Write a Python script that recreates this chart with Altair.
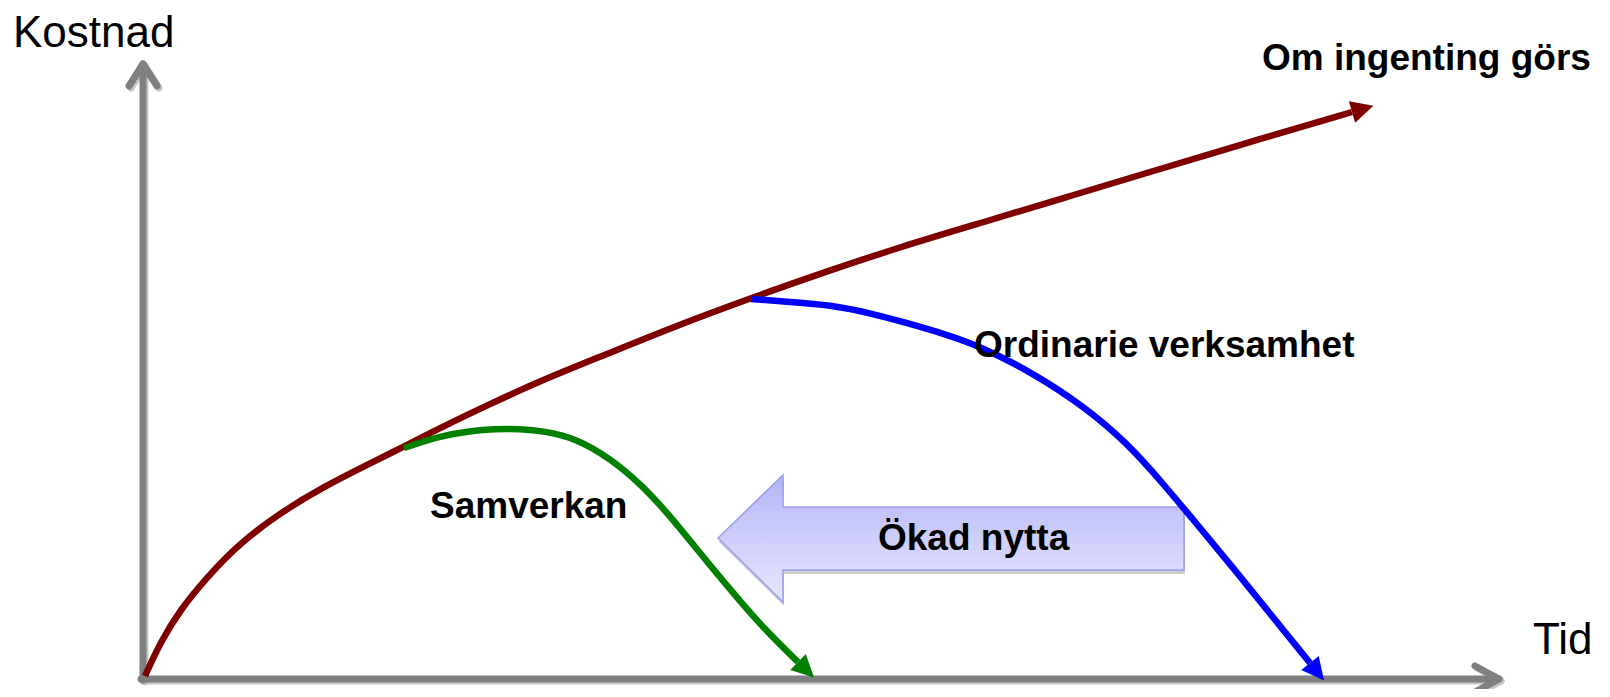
import math
import altair as alt
import pandas as pd

# ---------------- data (arbitrary units: Tid on x, Kostnad on y) ----------------
series_names = ["Om ingenting görs", "Samverkan", "Ordinarie verksamhet"]
series_colors = ["#800000", "#008000", "#0000ff"]

red_t = [0.2, 1.7, 3.7, 6.4, 9.7, 13.7, 18.0, 23.0, 26.0, 29.7, 34.7, 39.7,
         46.4, 53.0, 60.8, 68.2, 75.7, 84.1, 92.4, 100.7, 109.0, 120.9]
red_k = [0.3, 3.6, 6.9, 10.2, 13.6, 16.6, 19.2, 21.7, 23.2, 25.1, 27.5, 29.8,
         32.5, 35.2, 38.1, 40.7, 43.2, 45.7, 48.2, 50.7, 53.2, 56.7]

green_t = [26.1, 29.7, 32.7, 35.2, 37.7, 40.1, 43.2, 46.7, 50.0, 52.7, 55.7, 59.0, 62.3, 65.5]
green_k = [23.1, 24.3, 24.8, 25.0, 25.0, 24.8, 24.1, 22.1, 19.3, 16.3, 12.6, 8.6, 4.8, 1.7]

blue_t = [60.8, 64.7, 68.7, 72.7, 76.4, 80.2, 83.9, 89.0, 94.2, 98.4, 101.7,
          105.3, 109.1, 112.9, 116.7]
blue_k = [38.0, 37.7, 37.4, 36.6, 35.6, 34.5, 33.2, 30.6, 27.2, 23.6, 19.9,
          15.6, 11.0, 6.3, 1.6]

# "Ökad nytta" block arrow outline (x, upper edge, lower edge)
benefit_t = [57.5, 64.0, 64.0, 104.1]
benefit_top = [14.1, 20.4, 17.2, 17.2]
benefit_bot = [14.1, 7.7, 10.9, 10.9]

# axis lines with open arrow heads
axis_seg = ["y", "y", "ycap", "ycap", "ycap", "x", "x", "xcap", "xcap", "xcap"]
axis_t = [0.0, 0.0, -1.4, 0.0, 1.4, -0.2, 135.6, 133.2, 135.6, 133.2]
axis_k = [-0.1, 61.5, 59.3, 61.5, 59.3, 0.0, 0.0, 1.3, 0.0, -1.3]

axis_titles = ["Kostnad", "Tid"]
axis_title_t = [-13.0, 139.0]
axis_title_k = [63.2, 2.5]

curve_labels = ["Om ingenting görs", "Ordinarie verksamhet", "Samverkan", "Ökad nytta"]
curve_label_t = [111.9, 83.1, 28.7, 73.5]
curve_label_k = [60.9, 32.2, 16.1, 12.9]

# ---------------- tables ----------------
rows = []
for name, ts, ks in zip(series_names, [red_t, green_t, blue_t], [red_k, green_k, blue_k]):
    for i, (t, k) in enumerate(zip(ts, ks)):
        rows.append({"serie": name, "t": t, "k": k, "i": i})
curves = pd.DataFrame(rows)

heads = []
for name, col, ts, ks in zip(series_names, series_colors,
                             [red_t, green_t, blue_t], [red_k, green_k, blue_k]):
    dt = ts[-1] - ts[-2]
    dk = ks[-1] - ks[-2]
    ang = math.degrees(math.atan2(-dk, dt)) % 360
    heads.append({"serie": name, "t": ts[-1], "k": ks[-1], "ang": ang, "col": col})
heads = pd.DataFrame(heads)

benefit = pd.DataFrame({"t": benefit_t, "top": benefit_top, "bot": benefit_bot})
axes = pd.DataFrame({"seg": axis_seg, "t": axis_t, "k": axis_k,
                     "i": list(range(len(axis_t)))})
titles = pd.DataFrame({"txt": axis_titles, "t": axis_title_t, "k": axis_title_k})
labels = pd.DataFrame({"txt": curve_labels, "t": curve_label_t, "k": curve_label_k})

# ---------------- chart ----------------
XS = alt.Scale(domain=[-13.5, 145.9], nice=False, zero=False)
YS = alt.Scale(domain=[-1.0, 67.1], nice=False, zero=False)
X = alt.X("t:Q", axis=None, scale=XS)
Y = alt.Y("k:Q", axis=None, scale=YS)
FONT = "Liberation Sans, Arial, Helvetica, sans-serif"

axis_shadow = alt.Chart(axes).mark_line(
    color="#c6c6c6", strokeWidth=7, strokeCap="round", strokeJoin="round",
    xOffset=2, yOffset=2
).encode(x=X, y=Y, detail="seg:N", order="i:Q")

axis_lines = alt.Chart(axes).mark_line(
    color="#808080", strokeWidth=7, strokeCap="round", strokeJoin="round"
).encode(x=X, y=Y, detail="seg:N", order="i:Q")

benefit_shadow = alt.Chart(benefit).mark_area(
    orient="vertical", color="#c4c4c4", opacity=0.85,
    xOffset=1, yOffset=4, y2Offset=4
).encode(x=X, y=alt.Y("top:Q", axis=None, scale=YS), y2="bot:Q")

benefit_arrow = alt.Chart(benefit).mark_area(
    orient="vertical",
    fill=alt.Gradient(
        gradient="linear",
        stops=[alt.GradientStop(color="#b4b4f5", offset=0),
               alt.GradientStop(color="#e8e8ff", offset=1)],
        x1=0, x2=0, y1=0, y2=1),
    fillOpacity=1,
    stroke="#9c9cf0", strokeWidth=1.5
).encode(x=X, y=alt.Y("top:Q", axis=None, scale=YS), y2="bot:Q")

lines = alt.Chart(curves).mark_line(
    interpolate="basis", strokeWidth=6.5, strokeCap="butt"
).encode(
    x=X, y=Y, order="i:Q",
    color=alt.Color("serie:N", legend=None,
                    scale=alt.Scale(domain=series_names, range=series_colors)),
)

arrow_heads = alt.Chart(heads).mark_point(
    shape="M 2 0 L 0 -1 L 0 1 Z", filled=True, size=500, opacity=1, strokeWidth=0
).encode(
    x=X, y=Y,
    angle=alt.Angle("ang:Q", scale=None),
    color=alt.Color("col:N", scale=None, legend=None),
)

title_text = alt.Chart(titles).mark_text(
    align="left", baseline="alphabetic", font=FONT, fontSize=44, color="#000000"
).encode(x=X, y=Y, text="txt:N")

label_text = alt.Chart(labels).mark_text(
    align="left", baseline="alphabetic", font=FONT, fontSize=37, fontWeight="bold",
    color="#000000"
).encode(x=X, y=Y, text="txt:N")

chart = alt.layer(
    axis_shadow, axis_lines, benefit_shadow, benefit_arrow, lines, arrow_heads,
    title_text, label_text
).properties(
    width=1594, height=681, padding=0,
    autosize=alt.AutoSizeParams(type="none"),
    background="#ffffff",
).configure_view(stroke=None)

chart.save("out.html", embed_options={"renderer": "svg", "actions": False})
